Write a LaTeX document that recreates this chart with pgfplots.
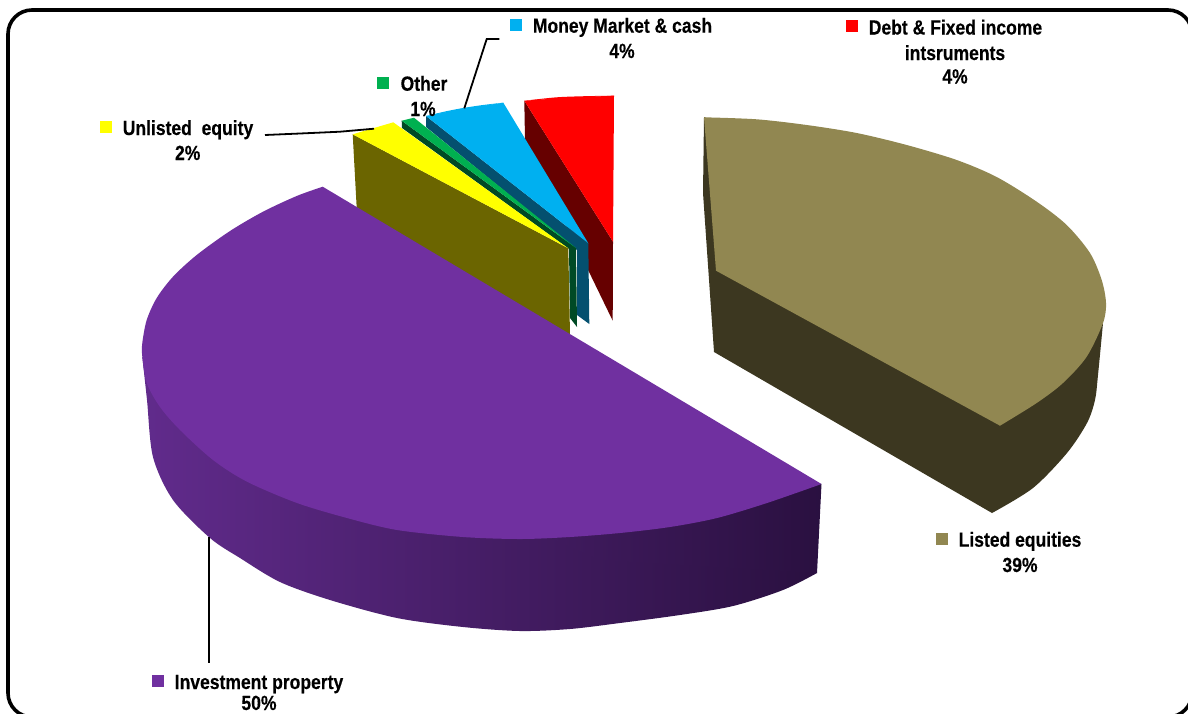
\documentclass[border=0pt]{standalone}
\usepackage{fontspec}
\setmainfont{Liberation Sans}[FakeStretch=0.855,FakeBold=0.3]
\usepackage{pgfplots}
\pgfplotsset{compat=1.18}

% slice colours: top faces and their darker side walls
\definecolor{propTop}{HTML}{7030A0}
\definecolor{propL}{HTML}{612B8C}
\definecolor{propM}{HTML}{431C66}
\definecolor{propR}{HTML}{2A1040}
\definecolor{eqTop}{HTML}{918751}
\definecolor{eqSide}{HTML}{3C3720}
\definecolor{debtTop}{HTML}{FF0000}
\definecolor{debtSide}{HTML}{660000}
\definecolor{cashTop}{HTML}{00B0F0}
\definecolor{cashSide}{HTML}{04506F}
\definecolor{otherTop}{HTML}{00B050}
\definecolor{otherSide}{HTML}{004A25}
\definecolor{unlTop}{HTML}{FFFF00}
\definecolor{unlSide}{HTML}{6B6500}

\newcommand{\lbl}[3]{\node[anchor=base,inner sep=0pt,font=\fontsize{20.5}{24}\selectfont\bfseries] at (axis cs:#1,#2) {#3};}

\begin{document}
\begin{tikzpicture}
\begin{axis}[
  name=a,
  scale only axis,
  width=1188pt, height=713pt,
  xmin=0, xmax=1188, ymin=0, ymax=713,
  y dir=reverse,
  hide axis,
]
% outer frame
\addplot[draw=black, line width=3.6pt, rounded corners=24pt] coordinates
  {(600,10) (1192,10) (1192,717) (8,717) (8,10)} -- cycle;

% Debt & fixed income
\addplot[draw=none, fill=debtSide] coordinates
  {(524.3,100.7) (525,140) (612.7,320.7) (613,241.7)} -- cycle;
\addplot[draw=none, fill=debtTop] coordinates
  {(524.3,100.7) (570,97.5) (614,95.7) (613,241.7)} -- cycle;
\addplot[smooth, draw=none, fill=debtTop] coordinates
  {(524.3,100.7) (556.7,97.3) (585,96.2) (614,95.7)};

% Money market & cash
\addplot[draw=none, fill=cashSide] coordinates
  {(426,116) (426,127) (577,250) (577,315) (589.3,324) (588.3,243.3)} -- cycle;
\addplot[draw=none, fill=cashTop] coordinates
  {(426,116) (465,108.5) (503.3,102.7) (588.3,243.3)} -- cycle;
\addplot[smooth, draw=none, fill=cashTop] coordinates
  {(426,116) (445,111.5) (463,108) (483,105) (503.3,102.7)};

% Other
\addplot[draw=none, fill=otherSide] coordinates
  {(401.7,120.7) (402,128) (569,249) (570,318) (577,327) (576,248)} -- cycle;
\addplot[draw=none, fill=otherTop] coordinates
  {(401.7,120.7) (414,117.7) (576,248)} -- cycle;

% Unlisted equity
\addplot[draw=none, fill=unlSide] coordinates
  {(352.7,134.3) (356.7,208) (570,335) (568.3,248.3)} -- cycle;
\addplot[draw=none, fill=unlTop] coordinates
  {(352.7,134.3) (393.3,122.3) (568.3,248.3)} -- cycle;

% Listed equities: wall below the rim, then the top face
\addplot[draw=none, fill=eqSide] coordinates
  {(704,117) (703,193) (714,352) (992,513) (1050,440) (1106,303)} -- cycle;
\addplot[smooth, draw=none, fill=eqSide] coordinates
  {(992,513) (1033,488) (1067,453) (1087,423) (1095,400) (1098,375) (1103,323)};
\addplot[draw=none, fill=eqTop] coordinates
  {(704,117.3) (900,200) (1000,425.7) (716,270.7)} -- cycle;
\addplot[smooth, draw=none, fill=eqTop] coordinates
  {(704,117.3) (756.7,119.3) (806.7,125) (856.7,133) (906.7,145) (956.7,160)
   (996.7,177) (1036.7,201.7) (1066.7,225) (1090,253) (1101.7,280) (1106,303)
   (1103,323) (1086.7,356.7) (1063,383) (1036.7,403) (1000,425.7)};

% Investment property: shaded wall first, then the top face
\addplot[smooth, draw=none, left color=propL, middle color=propM, right color=propR] coordinates
  {(142.3,357) (147,400) (153,457) (173,500) (210,538)
   (240,558) (280,582) (330,600) (397,618) (463,627) (520,631) (570,629) (620,623)
   (680,615) (733,606) (783,590) (817,573)};
\addplot[draw=none, left color=propL, middle color=propM, right color=propR] coordinates
  {(142.3,357) (600,560) (817,573) (821.5,484)} -- cycle;
\addplot[smooth, draw=none, fill=propTop] coordinates
  {(322.7,186.7) (296.7,196) (263,211.7) (230,231) (196.7,255) (173,276.7) (156.7,298)
   (146.7,320) (142.3,343) (142.3,356.7) (146.7,383) (160,407) (180,430) (213,460)
   (247,481.7) (297,503) (347,518) (397,530) (463,537) (520,539) (570,537) (620,533)
   (670,527) (717,518) (767,503) (821.5,484)};

% leader lines
\addplot[black, line width=1.8pt] coordinates {(209.3,537) (209.3,662.5)};
\addplot[black, line width=1.8pt] coordinates {(265,135) (300,133.5) (340,131.7) (374,128.7)};
\addplot[black, line width=1.8pt] coordinates {(499.3,39) (486.7,39) (464.3,108.3)};

% key squares
\addplot[draw=none, fill=propTop] coordinates {(152,675) (164,675) (164,687) (152,687)} -- cycle;
\addplot[draw=none, fill=eqTop] coordinates {(936,533) (948,533) (948,545) (936,545)} -- cycle;
\addplot[draw=none, fill=debtTop] coordinates {(846,20) (858,20) (858,32) (846,32)} -- cycle;
\addplot[draw=none, fill=cashTop] coordinates {(510,19) (522,19) (522,31) (510,31)} -- cycle;
\addplot[draw=none, fill=otherTop] coordinates {(377,77) (389,77) (389,89) (377,89)} -- cycle;
\addplot[draw=none, fill=unlTop] coordinates {(100,121) (112,121) (112,133) (100,133)} -- cycle;

% labels
\lbl{259}{689}{Investment property}
\lbl{259}{710}{50\%}
\lbl{1020}{546.7}{Listed equities}
\lbl{1020}{572}{39\%}
\lbl{955.5}{34.5}{Debt \& Fixed income}
\lbl{955}{60}{intsruments}
\lbl{955}{83.5}{4\%}
\lbl{622.5}{32.7}{Money Market \& cash}
\lbl{622}{58}{4\%}
\lbl{424}{90.7}{Other}
\lbl{423}{116}{1\%}
\lbl{188}{135}{Unlisted\ \ equity}
\lbl{187.7}{160}{2\%}
\end{axis}
\pgfresetboundingbox
\useasboundingbox (a.south west) rectangle (a.north east);
\end{tikzpicture}
\end{document}
